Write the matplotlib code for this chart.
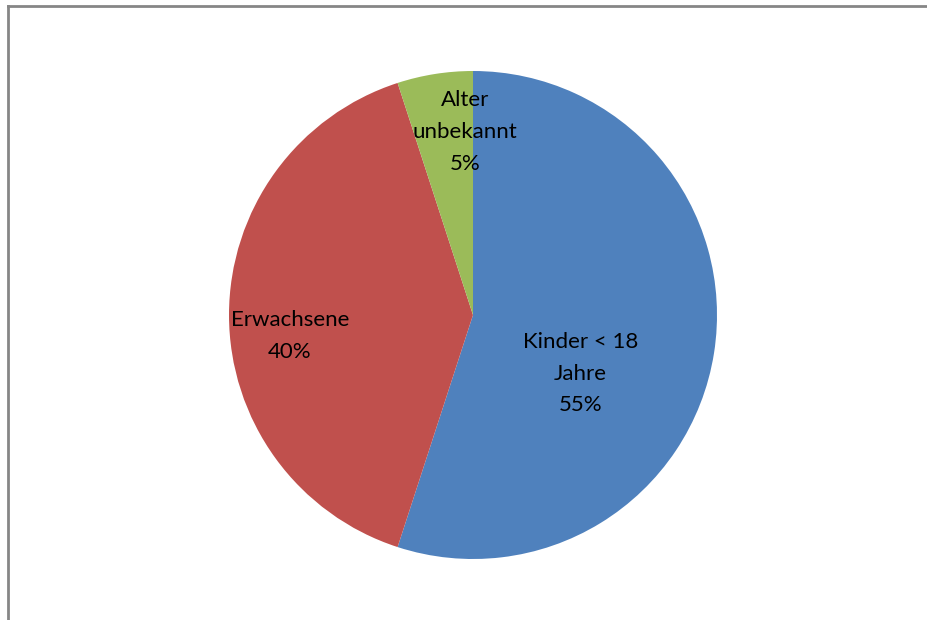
import matplotlib.pyplot as plt
from matplotlib.lines import Line2D

categories = ['Kinder < 18\nJahre', 'Erwachsene', 'Alter\nunbekannt']
shares = [55, 40, 5]
colors = ['#4f81bd', '#c0504d', '#9bbb59']
# label anchor points in pie units (radius 1)
label_pos = [(0.44, -0.24), (-0.75, -0.086), (-0.033, 0.75)]

plt.rcParams['font.family'] = ['Lato', 'DejaVu Sans']

fig = plt.figure(figsize=(9.28, 6.2), dpi=100)
W, H = 928, 620
cx, cy, r = 473, 315, 244
ax = fig.add_axes([(cx - r) / W, (H - cy - r) / H, 2 * r / W, 2 * r / H])
ax.pie(shares, colors=colors, startangle=90, counterclock=False, radius=1,
       wedgeprops=dict(linewidth=0))
ax.set_xlim(-1, 1)
ax.set_ylim(-1, 1)
ax.set_aspect('equal')
ax.axis('off')

total = sum(shares)
for name, val, (x, y) in zip(categories, shares, label_pos):
    ax.text(x, y, f'{name}\n{round(100 * val / total)}%', ha='center', va='center',
            fontsize=16, linespacing=1.72, color='black')

# chart frame (left and top edges visible)
fig.add_artist(Line2D([7.5 / W, 7.5 / W], [0, 1 - 5.5 / H], color='#868686', lw=2,
                      transform=fig.transFigure))
fig.add_artist(Line2D([7.5 / W, 1], [1 - 5.5 / H, 1 - 5.5 / H], color='#868686', lw=2,
                      transform=fig.transFigure))

fig.savefig('out.png', dpi=100, facecolor='white')
